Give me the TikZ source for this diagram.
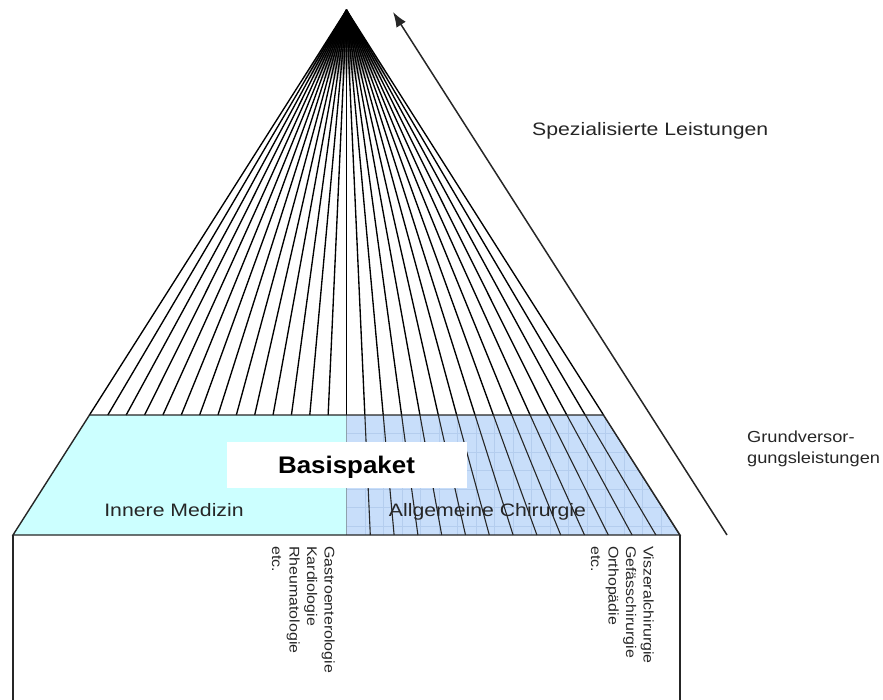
\documentclass[tikz,border=0pt]{standalone}
\usepackage{fontspec}
\setmainfont{Liberation Sans}
\usetikzlibrary{arrows.meta}
\definecolor{cyanfill}{RGB}{204,255,255}
\definecolor{bluefill}{RGB}{200,222,250}
\definecolor{gridc}{RGB}{180,205,238}
\definecolor{txt}{RGB}{38,38,38}
\newcommand\wtxt[1]{\scalebox{1.18}[1]{#1}}
\newcommand\wsub[1]{\scalebox{1.14}[1]{#1}}
\begin{document}
\begin{tikzpicture}[x=1pt,y=-1pt,
  fanline/.style={line width=1.35pt,black},
  extline/.style={line width=1.1pt,black!85},
  gridline/.style={line width=0.6pt,gridc},
  edge/.style={line width=1.4pt,black!85},
  lbl/.style={inner sep=0pt,text=txt,font=\fontsize{18}{22}\selectfont},
  sublbl/.style={inner sep=0pt,text=txt,font=\fontsize{14}{17.5}\selectfont,align=left,rotate=-90,anchor=north west},
]
\useasboundingbox (0,0) rectangle (883,700);
\clip (0,0) rectangle (883,700);
\coordinate (apex) at (346.5,10);
\coordinate (tl) at (89.5,415);
\coordinate (tr) at (603.5,415);
\coordinate (tm) at (346.5,415);
\coordinate (bl) at (13,535);
\coordinate (br) at (680,535);
\coordinate (bm) at (346.5,535);
\coordinate (bld) at (13,700);
\coordinate (brd) at (680,700);
% fills
\fill[cyanfill] (bl) -- (tl) -- (tm) -- (bm) -- cycle;
\fill[bluefill] (tm) -- (tr) -- (br) -- (bm) -- cycle;
\begin{scope}
  \clip (tm) -- (tr) -- (br) -- (bm) -- cycle;
  \foreach \i in {0,...,19} \draw[gridline] ({346.5+18.5*\i},415) -- ({346.5+18.5*\i},535);
  \foreach \j in {1,...,6} \draw[gridline] (346.5,{415+18.5*\j}) -- (700,{415+18.5*\j});
  \foreach \k in {0,...,14} \draw[extline] ({346.5+18.36*\k},415) -- ({346.5+23.8*\k},535);
\end{scope}
% fan
\foreach \k in {-14,...,14} \draw[fanline] (apex) -- ({346.5+18.36*\k},415);
% dense converging tip of the fan (solid, then fading out)
\fill[black] (apex) -- ({346.5-0.6346*30},40) -- ({346.5+0.6346*30},40) -- cycle;
\foreach \i in {0,...,9}{
  \pgfmathsetmacro\ya{40+4.2*\i}
  \pgfmathsetmacro\yb{40+4.2*(\i+1)}
  \pgfmathsetmacro\op{1-(\i+0.5)/10}
  \fill[black, fill opacity=\op] ({346.5-0.6346*(\ya-10)},\ya) -- ({346.5+0.6346*(\ya-10)},\ya) -- ({346.5+0.6346*(\yb-10)},\yb) -- ({346.5-0.6346*(\yb-10)},\yb) -- cycle;
}
% outlines
\draw[edge] (bl) -- (tl) -- (tr) -- (br) -- cycle;
\draw[edge] (bl) -- (bld);
\draw[edge] (br) -- (brd);
% Basispaket
\node[fill=white, minimum width=240pt, minimum height=46pt, inner sep=0pt] (box) at (347,465) {};
\node[inner sep=0pt, anchor=base, text=black, font=\bfseries\fontsize{24}{28}\selectfont] (basis) at (346.5,473) {\scalebox{1.08}[1]{Basispaket}};
\node[lbl, anchor=base] (inner) at (174,516.5) {\wtxt{Innere Medizin}};
\node[lbl, anchor=base] (chir) at (487.5,516.5) {\wtxt{Allgemeine Chirurgie}};
\node[lbl, anchor=base west] (spez) at (532,136) {\wtxt{Spezialisierte Leistungen}};
\node[inner sep=0pt, text=txt, font=\fontsize{16}{20.5}\selectfont, align=left, anchor=north west] (grund) at (747,431) {\wsub{Grundversor-}\\\wsub{gungsleistungen}};
\node[sublbl] (innerlist) at (335,546) {\wsub{Gastroenterologie}\\\wsub{Kardiologie}\\\wsub{Rheumatologie}\\\wsub{etc.}};
\node[sublbl] (chirlist) at (654,546) {\wsub{Viszeralchirurgie}\\\wsub{Gefässchirurgie}\\\wsub{Orthopädie}\\\wsub{etc.}};
% arrow
\coordinate (as) at (727,535);
\coordinate (ae) at (393,12);
\draw[line width=1.5pt, black!85, -{Latex[length=15pt,width=11pt]}] (as) -- (ae);
\end{tikzpicture}
\end{document}
